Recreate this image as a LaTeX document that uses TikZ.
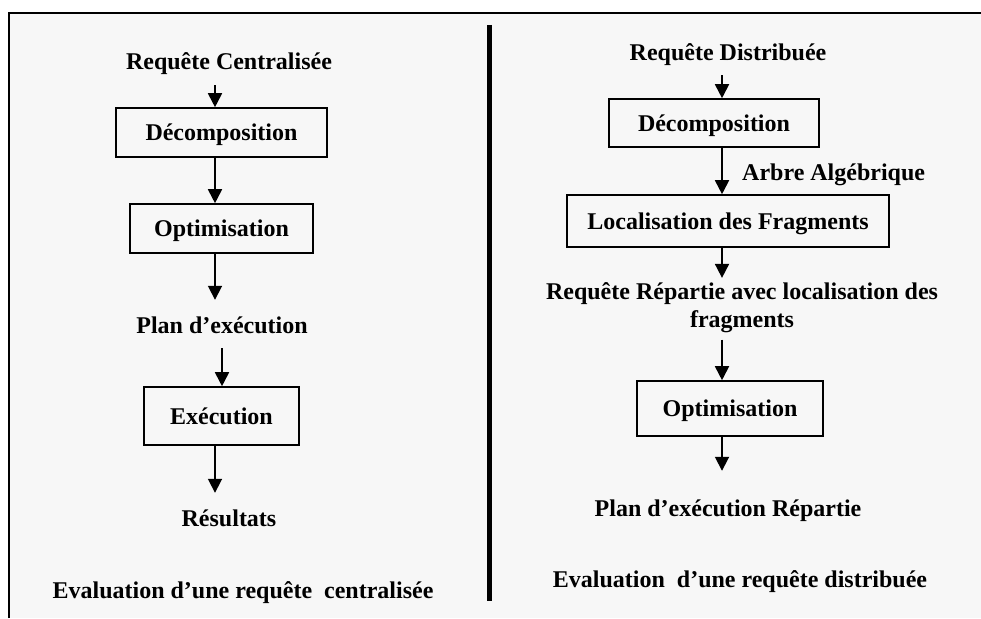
\documentclass[tikz,border=0pt]{standalone}
\usepackage{fontspec}
\setmainfont{Liberation Serif}
\usetikzlibrary{arrows.meta}
\definecolor{panel}{HTML}{F7F7F7}
\begin{document}
\begin{tikzpicture}[x=1pt,y=-1pt,
  every node/.style={font=\fontsize{24}{28}\selectfont\bfseries},
  txt/.style={inner sep=0pt,text height=17pt,text depth=6pt,anchor=base},
  stage/.style={draw,line width=1.6pt,inner sep=0pt,text height=18pt,text depth=2pt},
  flow/.style={line width=1.8pt,-{Triangle[length=14pt,width=14pt]}}]
\useasboundingbox (0,0) rectangle (981,618);

% panel and frame
\fill[panel] (9,13) rectangle (981,618);
\draw[line width=2pt,line join=miter] (9,618) -- (9,13) -- (981,13);
\draw[line width=4.5pt] (489.5,25) -- (489.5,601);

% arrow columns
\coordinate (xl) at (215,0);
\coordinate (xl2) at (222,0);
\coordinate (xr) at (722,0);

% centralised evaluation
\node[txt] (rc) at (229,69) {Requête Centralisée};
\node[stage,minimum width=211pt,minimum height=49pt] (dec1) at (221.5,132.5) {Décomposition};
\node[stage,minimum width=183pt,minimum height=49pt] (opt1) at (221.5,228.5) {Optimisation};
\node[txt] (plan1) at (222,333) {Plan d’exécution};
\node[stage,minimum width=155pt,minimum height=58pt] (exe1) at (221.5,416) {Exécution};
\node[txt] (res1) at (229,526) {Résultats};
\node[txt] (ev1) at (243,598) {Evaluation d’une requête\ \ centralisée};

\draw[flow,shorten <=10pt] (rc.south -| xl) -- (dec1.north -| xl);
\draw[flow] (dec1.south -| xl) -- (opt1.north -| xl);
\draw[flow,shorten >=16pt] (opt1.south -| xl) -- (plan1.north -| xl);
\draw[flow,shorten <=9pt] (plan1.south -| xl2) -- (exe1.north -| xl2);
\draw[flow,shorten >=16pt] (exe1.south -| xl) -- (res1.north -| xl);

% distributed evaluation
\node[txt] (rd) at (728,60) {Requête Distribuée};
\node[stage,minimum width=210pt,minimum height=48pt] (dec2) at (714,123) {Décomposition};
\node[txt,anchor=base west] (alg) at (742,180) {Arbre Algébrique};
\node[stage,minimum width=322pt,minimum height=52pt] (loc2) at (728,221) {Localisation des Fragments};
\node[inner sep=0pt,align=center,anchor=base] (rr) at (742,327) {Requête Répartie avec localisation des\\fragments};
\node[stage,minimum width=186pt,minimum height=55pt] (opt2) at (730,408.5) {Optimisation};
\node[txt] (pr) at (728,516) {Plan d’exécution Répartie};
\node[txt] (ev2) at (740,587) {Evaluation\ \ d’une requête distribuée};

\draw[flow,shorten <=9pt] (rd.south -| xr) -- (dec2.north -| xr);
\draw[flow] (dec2.south -| xr) -- (loc2.north -| xr);
\draw[flow,shorten >=4pt] (loc2.south -| xr) -- (rr.north -| xr);
\draw[flow,shorten <=7pt] (rr.south -| xr) -- (opt2.north -| xr);
\draw[flow,shorten >=28pt] (opt2.south -| xr) -- (pr.north -| xr);
\end{tikzpicture}
\end{document}
